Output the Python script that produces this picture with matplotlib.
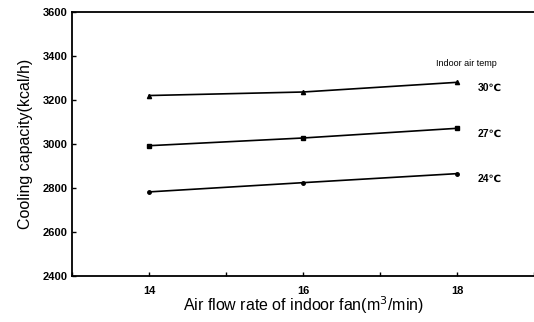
import matplotlib
matplotlib.use("Agg")
import matplotlib.pyplot as plt
from matplotlib.ticker import MultipleLocator

plt.rcParams['font.family'] = ['Liberation Sans', 'DejaVu Sans']

# air flow rate of indoor fan (m3/min)
flow = [14, 16, 18]

# cooling capacity (kcal/h) for each indoor air temp
cap_30 = [3220, 3236, 3280]
cap_27 = [2992, 3027, 3071]
cap_24 = [2782, 2824, 2865]

temps = ['30\u2103', '27\u2103', '24\u2103']
series = [cap_30, cap_27, cap_24]
markers = ['^', 's', 'o']
msizes = [3, 3.5, 2.5]

fig = plt.figure(figsize=(5.34, 3.22), dpi=100)
ax = fig.add_axes([0.135, 0.143, 0.865, 0.820])

for vals, m, ms, lab in zip(series, markers, msizes, temps):
    ax.plot(flow, vals, color='black', lw=1.2, marker=m, ms=ms)
    ax.annotate(lab, xy=(flow[-1], vals[-1]), xytext=(15, -6),
                textcoords='offset points', fontsize=7.5, fontweight='bold')

ax.annotate('Indoor air temp', xy=(flow[-1], cap_30[-1]), xytext=(-15, 12),
            textcoords='offset points', fontsize=6.5)

ax.set_xlim(13, 19)
ax.set_ylim(2400, 3600)
ax.set_xticks([14, 16, 18])
ax.xaxis.set_minor_locator(MultipleLocator(1))
ax.set_yticks(range(2400, 3601, 200))

ax.spines['right'].set_visible(False)
for s in ['left', 'top', 'bottom']:
    ax.spines[s].set_linewidth(1.3)

ax.tick_params(which='both', direction='in', length=3, width=1)
ax.tick_params(axis='x', which='minor', length=3)
ax.tick_params(labelsize=8)
ax.tick_params(axis='x', pad=7)
for t in ax.get_xticklabels() + ax.get_yticklabels():
    t.set_fontweight('bold')

ax.set_xlabel('Air flow rate of indoor fan(m$^3$/min)', fontsize=11.5, labelpad=-1)
ax.set_ylabel('Cooling capacity(kcal/h)', fontsize=11.5, labelpad=7)

fig.savefig('out.png', dpi=100)
